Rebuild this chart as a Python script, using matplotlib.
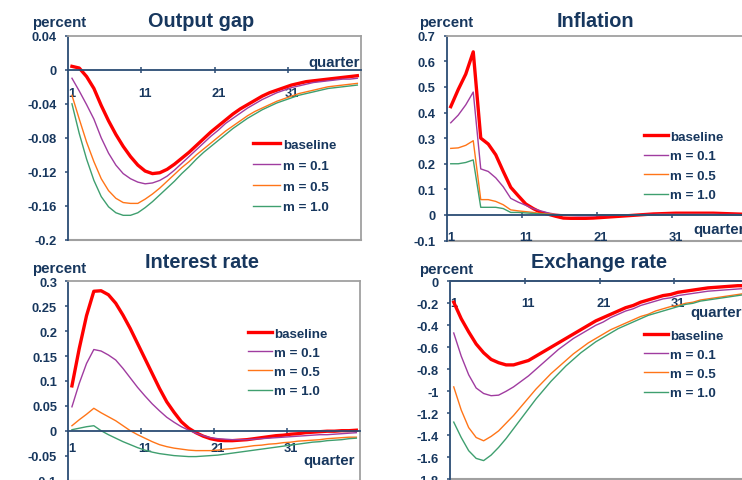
import numpy as np
import matplotlib
matplotlib.use('Agg')
import matplotlib.pyplot as plt
from matplotlib.ticker import FixedLocator, FuncFormatter

plt.rcParams['font.family'] = ['Liberation Sans', 'DejaVu Sans']
plt.rcParams['font.weight'] = 'bold'

W, H = 742, 481
NAVY = '#17375e'
AXIS = '#2b4c74'
FRAME = '#a0a0a0'

quarters = np.arange(1, 41)
series_labels = ['baseline', 'm = 0.1', 'm = 0.5', 'm = 1.0']
series_colors = ['#ff0000', '#a03ca0', '#ff7518', '#3f9f6f']
series_widths = [2.4, 1.0, 1.0, 1.0]

# output gap, percent
og_base = [0.004, 0.002, -0.008, -0.022, -0.042, -0.060, -0.076, -0.090, -0.102, -0.112,
           -0.119, -0.122, -0.121, -0.117, -0.111, -0.104, -0.097, -0.089, -0.081, -0.073,
           -0.066, -0.059, -0.052, -0.046, -0.041, -0.036, -0.031, -0.027, -0.024, -0.021,
           -0.018, -0.016, -0.014, -0.013, -0.012, -0.011, -0.010, -0.009, -0.008, -0.007]
og_m01 = [-0.010, -0.025, -0.041, -0.058, -0.080, -0.098, -0.112, -0.122, -0.128, -0.132,
          -0.134, -0.133, -0.130, -0.125, -0.118, -0.110, -0.102, -0.094, -0.086, -0.078,
          -0.071, -0.063, -0.057, -0.051, -0.045, -0.040, -0.035, -0.031, -0.027, -0.024,
          -0.021, -0.019, -0.017, -0.015, -0.014, -0.013, -0.012, -0.011, -0.011, -0.010]
og_m05 = [-0.030, -0.058, -0.085, -0.108, -0.128, -0.142, -0.151, -0.156, -0.157, -0.157,
          -0.152, -0.146, -0.139, -0.131, -0.123, -0.115, -0.108, -0.100, -0.093, -0.086,
          -0.079, -0.072, -0.066, -0.060, -0.054, -0.049, -0.045, -0.041, -0.037, -0.034,
          -0.031, -0.028, -0.026, -0.024, -0.022, -0.020, -0.019, -0.018, -0.017, -0.016]
og_m10 = [-0.040, -0.075, -0.105, -0.130, -0.149, -0.161, -0.168, -0.171, -0.171, -0.168,
          -0.162, -0.155, -0.147, -0.139, -0.131, -0.122, -0.114, -0.105, -0.097, -0.090,
          -0.083, -0.076, -0.069, -0.063, -0.057, -0.052, -0.047, -0.043, -0.039, -0.036,
          -0.033, -0.030, -0.028, -0.026, -0.024, -0.022, -0.021, -0.020, -0.019, -0.018]

# inflation, percent
inf_base = [0.423, 0.490, 0.550, 0.637, 0.300, 0.277, 0.235, 0.170, 0.108, 0.075,
            0.043, 0.025, 0.010, 0.003, -0.005, -0.012, -0.013, -0.013, -0.013, -0.012,
            -0.010, -0.008, -0.006, -0.004, -0.002, 0.000, 0.002, 0.004, 0.005, 0.006,
            0.007, 0.007, 0.007, 0.007, 0.007, 0.007, 0.006, 0.005, 0.004, 0.003]
inf_m01 = [0.360, 0.390, 0.430, 0.480, 0.180, 0.170, 0.145, 0.110, 0.065, 0.050,
           0.038, 0.025, 0.016, 0.008, 0.003, 0.000, -0.002, -0.003, -0.003, -0.003,
           -0.002, -0.002, -0.001, 0.000, 0.001, 0.001, 0.002, 0.002, 0.003, 0.003,
           0.003, 0.003, 0.003, 0.003, 0.003, 0.003, 0.002, 0.002, 0.002, 0.001]
inf_m05 = [0.260, 0.262, 0.272, 0.290, 0.060, 0.060, 0.053, 0.040, 0.020, 0.016,
           0.013, 0.010, 0.006, 0.004, 0.002, 0.001, 0.000, 0.000, 0.000, 0.000,
           0.000, 0.000, 0.001, 0.001, 0.001, 0.001, 0.001, 0.001, 0.002, 0.002,
           0.002, 0.002, 0.002, 0.002, 0.002, 0.002, 0.001, 0.001, 0.001, 0.001]
inf_m10 = [0.200, 0.200, 0.205, 0.215, 0.030, 0.030, 0.030, 0.025, 0.010, 0.010,
           0.008, 0.006, 0.004, 0.002, 0.001, 0.000, 0.000, 0.000, 0.000, 0.000,
           0.000, 0.000, 0.000, 0.000, 0.001, 0.001, 0.001, 0.001, 0.001, 0.001,
           0.001, 0.001, 0.001, 0.001, 0.001, 0.001, 0.001, 0.001, 0.001, 0.001]

# interest rate, percent
ir_base = [0.090, 0.165, 0.231, 0.280, 0.281, 0.273, 0.256, 0.232, 0.205, 0.175,
           0.145, 0.115, 0.085, 0.058, 0.037, 0.018, 0.005, -0.004, -0.011, -0.016,
           -0.019, -0.020, -0.020, -0.019, -0.018, -0.016, -0.014, -0.012, -0.010, -0.009,
           -0.007, -0.006, -0.004, -0.003, -0.002, -0.001, -0.001, 0.000, 0.000, 0.001]
ir_m01 = [0.048, 0.095, 0.135, 0.163, 0.160, 0.152, 0.142, 0.125, 0.106, 0.087,
          0.070, 0.054, 0.040, 0.027, 0.017, 0.008, 0.001, -0.005, -0.010, -0.014,
          -0.016, -0.017, -0.018, -0.018, -0.018, -0.017, -0.016, -0.015, -0.014, -0.013,
          -0.012, -0.011, -0.010, -0.009, -0.008, -0.008, -0.007, -0.006, -0.005, -0.004]
ir_m05 = [0.010, 0.022, 0.033, 0.045, 0.036, 0.028, 0.020, 0.010, 0.000, -0.008,
          -0.015, -0.022, -0.028, -0.032, -0.035, -0.037, -0.039, -0.040, -0.040, -0.040,
          -0.039, -0.037, -0.036, -0.034, -0.032, -0.030, -0.029, -0.027, -0.026, -0.024,
          -0.023, -0.021, -0.020, -0.019, -0.018, -0.016, -0.015, -0.014, -0.013, -0.013]
ir_m10 = [0.002, 0.005, 0.008, 0.010, 0.000, -0.008, -0.015, -0.022, -0.028, -0.034,
          -0.039, -0.043, -0.046, -0.048, -0.050, -0.051, -0.052, -0.052, -0.051, -0.050,
          -0.049, -0.047, -0.045, -0.043, -0.041, -0.039, -0.037, -0.035, -0.033, -0.031,
          -0.029, -0.027, -0.025, -0.023, -0.022, -0.020, -0.019, -0.018, -0.016, -0.015]

# exchange rate, percent
er_base = [-0.19, -0.34, -0.46, -0.57, -0.65, -0.71, -0.74, -0.76, -0.76, -0.74,
           -0.72, -0.68, -0.64, -0.60, -0.56, -0.52, -0.48, -0.44, -0.40, -0.36,
           -0.33, -0.30, -0.27, -0.24, -0.22, -0.19, -0.17, -0.15, -0.13, -0.12,
           -0.10, -0.09, -0.08, -0.07, -0.06, -0.055, -0.05, -0.045, -0.04, -0.04]
er_m01 = [-0.47, -0.68, -0.85, -0.97, -1.02, -1.04, -1.035, -1.00, -0.96, -0.91,
          -0.86, -0.80, -0.74, -0.68, -0.62, -0.57, -0.52, -0.48, -0.44, -0.40,
          -0.37, -0.33, -0.30, -0.27, -0.25, -0.22, -0.20, -0.18, -0.16, -0.15,
          -0.13, -0.12, -0.11, -0.10, -0.09, -0.085, -0.08, -0.075, -0.07, -0.065]
er_m05 = [-0.96, -1.17, -1.33, -1.42, -1.45, -1.41, -1.36, -1.29, -1.22, -1.14,
          -1.06, -0.98, -0.91, -0.84, -0.78, -0.72, -0.66, -0.61, -0.56, -0.52,
          -0.48, -0.44, -0.41, -0.38, -0.35, -0.32, -0.30, -0.27, -0.25, -0.23,
          -0.22, -0.20, -0.19, -0.17, -0.16, -0.15, -0.14, -0.13, -0.12, -0.11]
er_m10 = [-1.28, -1.42, -1.54, -1.61, -1.63, -1.58, -1.51, -1.43, -1.34, -1.25,
          -1.16, -1.07, -0.99, -0.91, -0.84, -0.77, -0.71, -0.65, -0.60, -0.55,
          -0.51, -0.47, -0.43, -0.40, -0.37, -0.34, -0.31, -0.29, -0.27, -0.25,
          -0.23, -0.21, -0.20, -0.18, -0.17, -0.16, -0.15, -0.14, -0.13, -0.12]

titles = ['Output gap', 'Inflation', 'Interest rate', 'Exchange rate']
og_yticks = [0.04, 0, -0.04, -0.08, -0.12, -0.16, -0.2]
inf_yticks = [0.7, 0.6, 0.5, 0.4, 0.3, 0.2, 0.1, 0, -0.1]
ir_yticks = [0.3, 0.25, 0.2, 0.15, 0.1, 0.05, 0, -0.05, -0.1]
er_yticks = [0, -0.2, -0.4, -0.6, -0.8, -1, -1.2, -1.4, -1.6, -1.8]
xtick_labels = [1, 11, 21, 31]


def fx(x):
    return x / W


def fy(y):
    return 1 - y / H


def draw_panel(fig, box, series, yticks, title, title_xy, percent_xy, quarter_xy,
               label_pad, leg_xy, leg_space, leg_handle, leg_textpad):
    # box and text positions are in pixels from the top-left corner
    left, top, right, bottom = box
    ax = fig.add_axes([fx(left), fy(bottom), (right - left) / W, (bottom - top) / H])
    for vals, lab, col, lw in zip(series, series_labels, series_colors, series_widths):
        ax.plot(quarters, vals, color=col, lw=lw, label=lab, solid_joinstyle='round')

    ax.set_xlim(0.5, 40.5)
    ax.set_ylim(min(yticks), max(yticks))

    # light frame, dark value axis, category axis through zero
    for s in ('top', 'right'):
        ax.spines[s].set_color(FRAME)
        ax.spines[s].set_linewidth(1.3)
    ax.spines['left'].set_color(AXIS)
    ax.spines['left'].set_linewidth(1.3)
    ax.spines['bottom'].set_position(('data', 0))
    ax.spines['bottom'].set_color(AXIS)
    ax.spines['bottom'].set_linewidth(1.3)
    ax.spines['bottom'].set_zorder(4)
    ax.axhline(min(yticks), color=FRAME, lw=1.5, clip_on=False, zorder=1)

    # labels sit on the quarters, tick marks between them
    ax.xaxis.set_major_locator(FixedLocator(xtick_labels))
    ax.xaxis.set_minor_locator(FixedLocator([10.5, 20.5, 30.5]))
    ax.tick_params(axis='x', which='major', length=0, pad=label_pad,
                   labelsize=9.3, labelcolor=NAVY)
    ax.tick_params(axis='x', which='minor', length=4, width=1.1,
                   direction='inout', color=AXIS)

    ax.yaxis.set_major_locator(FixedLocator(yticks))
    ax.yaxis.set_major_formatter(FuncFormatter(lambda v, p: f'{v:g}'))
    ax.tick_params(axis='y', length=2.5, width=1.1, color=AXIS, pad=5.6,
                   labelsize=9.3, labelcolor=NAVY)

    leg = ax.legend(loc='upper left', bbox_to_anchor=(fx(leg_xy[0]), fy(leg_xy[1])),
                    bbox_transform=fig.transFigure, frameon=False, borderpad=0,
                    borderaxespad=0, handlelength=leg_handle, handletextpad=leg_textpad,
                    labelspacing=leg_space, prop={'weight': 'bold', 'size': 9.6})
    for t in leg.get_texts():
        t.set_color(NAVY)

    fig.text(fx(title_xy[0]), fy(title_xy[1]), title, ha='center', va='baseline',
             fontsize=14.3, color=NAVY)
    fig.text(fx(percent_xy[0]), fy(percent_xy[1]), 'percent', ha='left', va='baseline',
             fontsize=10.8, color=NAVY)
    fig.text(fx(quarter_xy[0]), fy(quarter_xy[1]), 'quarter', ha='left', va='baseline',
             fontsize=10.8, color=NAVY)
    return ax


fig = plt.figure(figsize=(W / 100, H / 100), dpi=100)

draw_panel(fig, (68.3, 36.7, 361, 241), [og_base, og_m01, og_m05, og_m10], og_yticks,
           titles[0], (201, 26.7), (31.7, 27.3), (308.3, 66.7),
           12.6, (253, 139.5), 0.64, 2.05, 0.23)
draw_panel(fig, (447, 36.7, 747, 241.6), [inf_base, inf_m01, inf_m05, inf_m10], inf_yticks,
           titles[1], (595, 27.3), (419, 27.3), (693.7, 234.3),
           11.2, (644, 131.5), 0.54, 1.8, 0.15)
draw_panel(fig, (68.3, 282.3, 360, 481.5), [ir_base, ir_m01, ir_m05, ir_m10], ir_yticks,
           titles[2], (202, 268.3), (32, 273.3), (303.3, 465),
           8.3, (248, 328.5), 0.51, 1.8, 0.15)
draw_panel(fig, (450, 282.3, 749, 480.3), [er_base, er_m01, er_m05, er_m10], er_yticks,
           titles[3], (599, 268.3), (419, 274), (690, 316.7),
           11.4, (644, 330.5), 0.51, 1.8, 0.15)

fig.savefig('out.png', dpi=100)
